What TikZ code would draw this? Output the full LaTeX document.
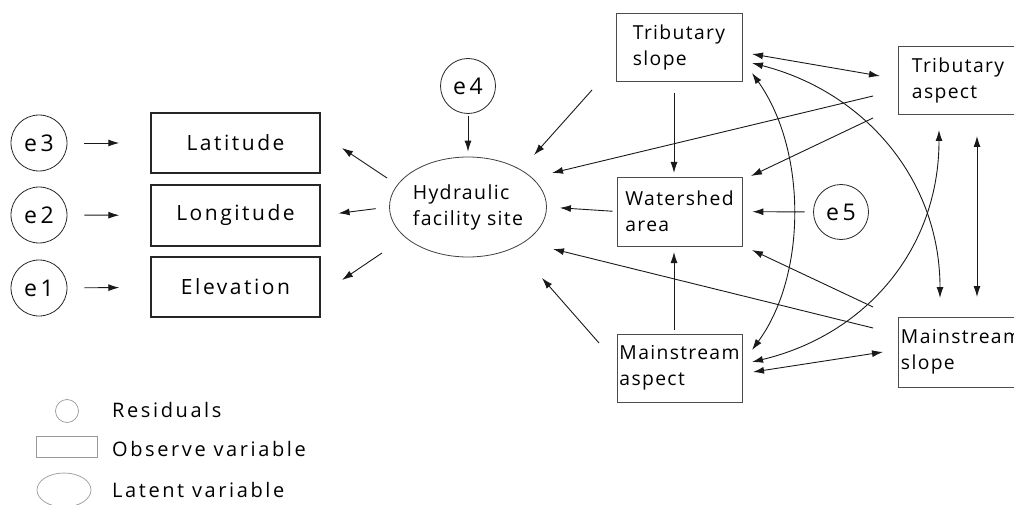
\documentclass[tikz,border=0pt]{standalone}
\usepackage{fontspec}
\setmainfont{Open Sans}
\newfontfamily\fa[LetterSpace=12]{Open Sans}
\newfontfamily\fb[LetterSpace=7]{Open Sans}
\newfontfamily\fc[LetterSpace=13]{Open Sans}
\newfontfamily\fd[LetterSpace=16]{Open Sans}
\usetikzlibrary{arrows.meta,shapes.geometric}
\begin{document}
\begin{tikzpicture}[x=1pt,y=-1pt,
  tip/.tip={Latex[length=11pt,width=7pt]},
  arr/.style={-tip, line width=0.9pt, draw=black!90},
  biarr/.style={tip-tip, line width=0.9pt, draw=black!90},
  lbox/.style={draw=black!85, line width=1.4pt, minimum width=169pt, minimum height=60pt, inner sep=0pt, font=\fa\fontsize{21}{24}\selectfont},
  rbox/.style={draw=black!70, line width=0.8pt, inner sep=0pt, align=left, font=\fb\fontsize{19.3}{26}\selectfont},
  res/.style={circle, draw=black!85, line width=0.8pt, minimum size=56pt, inner sep=0pt, font=\fd\fontsize{23}{24}\selectfont},
  lat/.style={ellipse, draw=black!75, line width=0.8pt, minimum width=157pt, minimum height=100pt, inner sep=0pt, align=left, font=\fb\fontsize{19.5}{26}\selectfont},
  legshape/.style={draw=black!40, line width=0.7pt},
  legtext/.style={anchor=base west, inner sep=0pt, font=\fc\fontsize{20}{22}\selectfont}
]
\useasboundingbox (0,0) rectangle (1014,505);
\clip (0,0) rectangle (1014,505);

% residual circles
\node[res] (e3) at (39,143) {e3};
\node[res] (e2) at (39,215) {e2};
\node[res] (e1) at (39,288) {e1};
\node[res, minimum size=55pt] (e4) at (468,86) {e4};
\node[res, minimum size=55pt] (e5) at (841,212) {e5};

% left observed boxes
\node[lbox] (latb) at (235.5,143) {Latitude};
\node[lbox, minimum height=61pt] (lonb) at (235.5,215.5) {Longitude};
\node[lbox] (elevb) at (235.5,287) {Elevation};

% latent
\node[lat] (hyd) at (468,207) {Hydraulic\\facility site};

% right observed boxes
\node[rbox, minimum width=126pt, minimum height=68pt] (ts) at (679,47) {Tributary\\slope};
\node[rbox, minimum width=120pt, minimum height=68pt] (ta) at (958,80) {Tributary\\aspect};
\node[rbox, minimum width=125pt, minimum height=69pt] (ws) at (679.5,211.5) {Watershed\\area};
\node[rbox, minimum width=125pt, minimum height=68pt] (ma) at (679.5,368) {Mainstream\\aspect};
\node[rbox, minimum width=126pt, minimum height=70pt] (ms) at (961,352) {Mainstream\\slope};

% residual arrows
\draw[arr, shorten <=17pt, shorten >=31pt] (e3) -- (latb);
\draw[arr, shorten <=17pt, shorten >=31pt] (e2) -- (lonb);
\draw[arr, shorten <=17pt, shorten >=31pt] (e1) -- (elevb);
\draw[arr, shorten <=2pt, shorten >=5pt] (e4) -- (hyd);
\draw[arr, shorten <=8.5pt, shorten >=10pt] (e5) -- (ws);

% free end coordinates
\coordinate (h1s) at (387,178); \coordinate (h1e) at (342,148);
\coordinate (h3s) at (382,253); \coordinate (h3e) at (342,280);
\coordinate (t1s) at (592,90);  \coordinate (t1e) at (534,155);
\coordinate (a1s) at (873,96);  \coordinate (a1e) at (552,173);
\coordinate (a2s) at (873,118); \coordinate (a2e) at (751,176);
\coordinate (m1s) at (873,328); \coordinate (m1e) at (553,249);
\coordinate (m2s) at (873,307); \coordinate (m2e) at (752,250);
\coordinate (q1s) at (599,343); \coordinate (q1e) at (542,278);
\coordinate (b1s) at (752,54);  \coordinate (b1e) at (880,76);
\coordinate (b2s) at (753,372); \coordinate (b2e) at (883,352);
\coordinate (c1s) at (752,73);  \coordinate (c1e) at (752,350);
\coordinate (c2s) at (752,63);  \coordinate (c2e) at (940,298);
\coordinate (c3s) at (752,362); \coordinate (c3e) at (939,130);
\coordinate (v1s) at (977,136); \coordinate (v1e) at (977,297);
\coordinate (w1s) at (674,93);  \coordinate (w1e) at (674,173);
\coordinate (w2s) at (674,330); \coordinate (w2e) at (674,252);

% latent to observed
\draw[arr] (h1s) -- (h1e);
\draw[arr, shorten <=13.5pt, shorten >=18pt] (hyd.west) -- (lonb.east);
\draw[arr] (h3s) -- (h3e);

% into latent / watershed
\draw[arr, shorten <=4pt, shorten >=13pt] (ws.west) -- (hyd.east);
\draw[arr] (t1s) -- (t1e);
\draw[arr] (a1s) -- (a1e);
\draw[arr] (a2s) -- (a2e);
\draw[arr] (m1s) -- (m1e);
\draw[arr] (m2s) -- (m2e);
\draw[arr] (q1s) -- (q1e);
\draw[arr] (w1s) -- (w1e);
\draw[arr] (w2s) -- (w2e);

% correlations
\draw[biarr] (b1s) -- (b1e);
\draw[biarr] (b2s) -- (b2e);
\draw[biarr] (v1s) -- (v1e);
\draw[biarr] (c1s) .. controls (807,150) and (807,275) .. (c1e);
\draw[biarr] (c2s) .. controls (865,92) and (940,180) .. (c2e);
\draw[biarr] (c3s) .. controls (865,335) and (939,250) .. (c3e);

% legend
\node[circle, legshape, minimum size=23pt, inner sep=0pt] (lg1) at (67,411) {};
\node[legshape, minimum width=61pt, minimum height=21pt, inner sep=0pt] (lg2) at (66.5,446.5) {};
\node[ellipse, legshape, minimum width=54pt, minimum height=34pt, inner sep=0pt] (lg3) at (64,490) {};
\node[legtext] (lt1) at (112,417) {Residuals};
\node[legtext] (lt2) at (112,456) {Observe variable};
\node[legtext] (lt3) at (112,497) {Latent variable};
\end{tikzpicture}
\end{document}
